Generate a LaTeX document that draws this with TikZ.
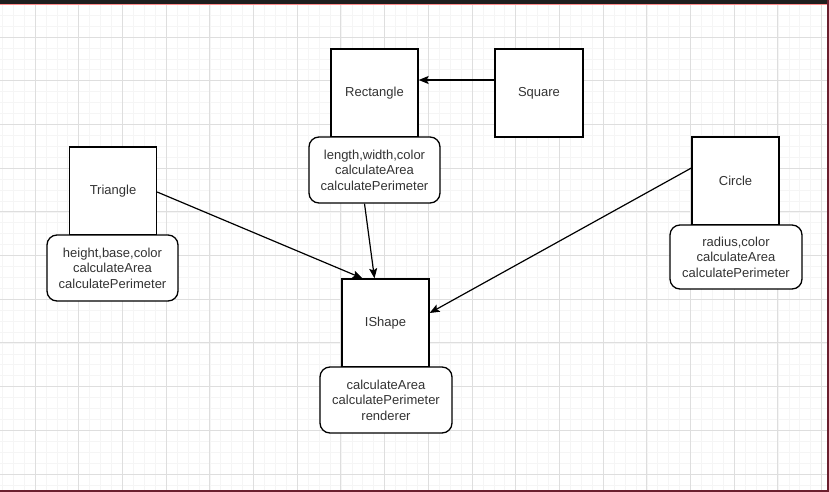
\documentclass[tikz,border=0pt]{standalone}
\usepackage{fontspec}
\setmainfont{Liberation Sans}
\usetikzlibrary{arrows.meta}
\definecolor{txt}{HTML}{333333}
\definecolor{minorgrid}{HTML}{F5F5F5}
\definecolor{majorgrid}{HTML}{DEDEDE}
\definecolor{edge}{HTML}{6B1F2E}
\tikzset{
  classbox/.style={draw=black, line width=1.3pt, fill=white, minimum width=87pt, minimum height=88pt, inner sep=0pt, text=txt, font=\fontsize{13}{15.5}\selectfont},
  membox/.style={draw=black, line width=1.3pt, fill=white, rounded corners=10pt, minimum width=131pt, minimum height=66pt, inner sep=0pt, align=center, text=txt, font=\fontsize{13}{15.5}\selectfont},
  conn/.style={line width=1.2pt, -{Stealth[length=10pt,width=8pt,inset=2pt]}},
  minorline/.style={draw=minorgrid, line width=0.6pt},
  majorline/.style={draw=majorgrid, line width=0.9pt}
}
\begin{document}
\begin{tikzpicture}[x=1pt,y=-1pt]
\useasboundingbox (0,0) rectangle (829,492);
\fill[white] (0,0) rectangle (829,492);
% grid
\foreach \i in {-4,...,76} {
  \draw[minorline] ({35+\i*10.925},0) -- ++(0,492);
}
\foreach \i in {-4,...,45} {
  \draw[minorline] (0,{37+\i*10.925}) -- ++(829,0);
}
\foreach \i in {-1,...,19} {
  \draw[majorline] ({35+\i*43.7},0) -- ++(0,492);
}
\foreach \i in {-1,...,11} {
  \draw[majorline] (0,{37+\i*43.7}) -- ++(829,0);
}
% frame
\fill[black!88] (0,0) rectangle (829,4.5);
\fill[red!45!white] (0,4.5) rectangle (829,5.5);
\fill[edge] (827,0) rectangle (829,492);
\fill[edge] (0,490) rectangle (829,492);

% class boxes
\node[classbox] (rect) at (374.5,93) {Rectangle};
\node[classbox, minimum width=88pt] (sq) at (539,93) {Square};
\node[classbox] (tri) at (113,191) {Triangle};
\node[classbox] (circ) at (735.5,181) {Circle};
\node[classbox] (ish) at (385.5,323) {IShape};

% member boxes
\node[membox] (rectm) at (374.5,170) {length,width,color\\calculateArea\\calculatePerimeter};
\node[membox] (trim) at (112.5,268) {height,base,color\\calculateArea\\calculatePerimeter};
\node[membox, minimum width=132pt, minimum height=64pt] (circm) at (736,257) {radius,color\\calculateArea\\calculatePerimeter};
\node[membox, minimum width=132pt] (ishm) at (386,400) {calculateArea\\calculatePerimeter\\renderer};

% connectors
\draw[conn] ([yshift=13pt]sq.west) -- ([yshift=13pt]rect.east);
\draw[conn] ([yshift=-1pt]tri.east) -- ([xshift=-23pt]ish.north);
\draw[conn] ([xshift=-10pt]rectm.south) -- ([xshift=-11pt]ish.north);
\draw[conn] ([yshift=13pt]circ.west) -- ([yshift=10pt]ish.east);
\end{tikzpicture}
\end{document}
